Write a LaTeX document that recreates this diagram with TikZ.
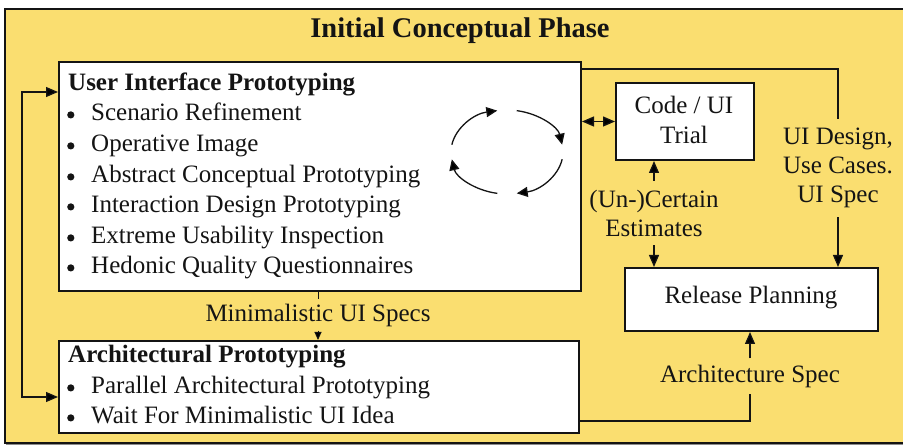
\documentclass[tikz,border=0pt]{standalone}
\usepackage{fontspec}
\setmainfont{Liberation Serif}
\usetikzlibrary{arrows.meta,calc,shadows}
\definecolor{phase}{RGB}{250,222,112}
\definecolor{ink}{RGB}{20,20,20}
\newcommand{\bul}{\makebox[24pt][l]{\raisebox{2.5pt}{\tikz\fill[ink] (0,0) circle (3.6pt);}}}
\begin{document}
\begin{tikzpicture}[x=1pt,y=-1pt,
  every node/.style={font=\fontsize{25}{30}\selectfont, text=ink},
  box/.style={draw=ink, line width=2pt, fill=white, inner sep=0pt, anchor=north west,
    drop shadow={shadow xshift=1.4pt, shadow yshift=-1.4pt, fill=black!45, opacity=1}},
  txt/.style={anchor=base west, inner sep=0pt},
  hd/.style={txt, font=\bfseries\fontsize{25}{30}\selectfont},
  lbl/.style={align=center, inner xsep=2pt, inner ysep=9pt, font=\fontsize{25}{29}\selectfont},
  conn/.style={draw=ink, line width=1.3pt},
  tip/.style={-{Triangle[length=12pt,width=10pt]}},
  tips/.style={{Triangle[length=12pt,width=10pt]}-{Triangle[length=12pt,width=10pt]}},
  cyc/.style={draw=ink, line width=1.3pt, -{Triangle[length=11pt,width=10pt]}}
]
\useasboundingbox (0,0) rectangle (903,446);
\fill[white] (0,0) rectangle (903,446);
\draw[draw=black!45, line width=2pt] (6.5,10.5) rectangle (916,444.5);
\draw[fill=phase, draw=ink, line width=2pt] (5,9) rectangle (915,443);
\node[font=\bfseries\fontsize{28.5}{30}\selectfont] (title) at (460,31) {Initial Conceptual Phase};

% boxes
\node[box, minimum width=522pt, minimum height=229pt] (ui) at (58,61) {};
\node[box, minimum width=138pt, minimum height=77pt] (code) at (615,82) {};
\node[box, minimum width=253pt, minimum height=63pt] (rel) at (624,267) {};
\node[box, minimum width=520pt, minimum height=92pt] (arch) at (58,340) {};

% UI box text
\node[hd] (uit) at (68,91) {User Interface Prototyping};
\node[txt] (u1) at (67,121) {\bul Scenario Refinement};
\node[txt] (u2) at (67,152) {\bul Operative Image};
\node[txt] (u3) at (67,183) {\bul Abstract Conceptual Prototyping};
\node[txt] (u4) at (67,213) {\bul Interaction Design Prototyping};
\node[txt] (u5) at (67,244) {\bul Extreme Usability Inspection};
\node[txt] (u6) at (67,274) {\bul Hedonic Quality Questionnaires};

% Arch box text
\node[hd] (art) at (68,363) {Architectural Prototyping};
\node[txt] (a1) at (67,394) {\bul Parallel Architectural Prototyping};
\node[txt] (a2) at (67,424) {\bul Wait For Minimalistic UI Idea};

% code / release text
\node[align=center, font=\fontsize{25}{30}\selectfont, inner sep=0pt] (codet) at (684,120) {Code / UI\\Trial};
\node[inner sep=0pt] (relt) at (751,298) {Release Planning};

% cycle
\coordinate (cc) at (507,152);
\draw[cyc] ($(cc)+(170:56pt and 42pt)$) arc[start angle=170,end angle=100,x radius=56pt,y radius=42pt];
\draw[cyc] ($(cc)+(80:56pt and 42pt)$) arc[start angle=80,end angle=10,x radius=56pt,y radius=42pt];
\draw[cyc] ($(cc)+(-10:56pt and 42pt)$) arc[start angle=-10,end angle=-80,x radius=56pt,y radius=42pt];
\draw[cyc] ($(cc)+(-100:56pt and 42pt)$) arc[start angle=-100,end angle=-170,x radius=56pt,y radius=42pt];

% connectors
\draw[conn, tips] (ui.east |- code.west) -- (code.west);

\coordinate (uiout) at (580,69);
\node[lbl] (uid) at (838,168) {UI Design,\\Use Cases.\\UI Spec};
\draw[conn] (uiout) -| (uid.north);
\draw[conn, tip] (uid.south) -- (uid.south |- rel.north);

\node[lbl] (est) at (654,213) {(Un-)Certain\\Estimates};
\draw[conn, tip] (est.north) -- (est.north |- code.south);
\draw[conn, tip] (est.south) -- (est.south |- rel.north);

\node[lbl, inner ysep=4pt] (min) at (318,315) {Minimalistic UI Specs};
\draw[conn, line width=0.8pt] (min.north |- ui.south) -- (min.north);
\draw[conn, line width=0.9pt, -{Triangle[length=8pt,width=7pt]}] (min.south) -- (min.south |- arch.north);

\node[lbl, inner ysep=6pt] (asp) at (750,376) {Architecture Spec};
\coordinate (archout) at (578,421);
\draw[conn] (archout) -| (asp.south);
\draw[conn, tip] (asp.north) -- (asp.north |- rel.south);

\coordinate (fbt) at (58,92);
\coordinate (fbb) at (58,397);
\draw[conn, tips] (fbt) -- ++(-36,0) |- (fbb);
\end{tikzpicture}
\end{document}
